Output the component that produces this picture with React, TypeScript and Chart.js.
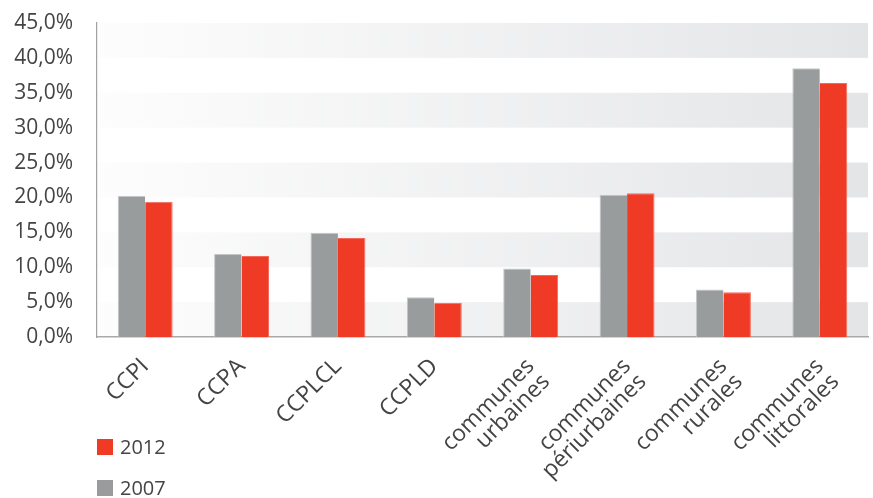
import React, { useEffect, useRef } from "react";
import { Chart, registerables } from "chart.js";

Chart.register(...registerables);

const categories: (string | string[])[] = [
  "CCPI",
  "CCPA",
  "CCPLCL",
  "CCPLD",
  ["communes", "urbaines"],
  ["communes", "périurbaines"],
  ["communes", "rurales"],
  ["communes", "littorales"],
];
const values2007 = [20.2, 11.9, 14.9, 5.7, 9.8, 20.4, 6.8, 38.5];
const values2012 = [19.4, 11.6, 14.2, 4.9, 8.9, 20.6, 6.4, 36.4];
const yTicks = [0, 5, 10, 15, 20, 25, 30, 35, 40, 45];

const GREY = "#999c9d";
const RED = "#ef3a26";
const FONT = "'Open Sans', sans-serif";

const bandsPlugin = {
  id: "bands",
  beforeDraw(chart: any) {
    const { ctx, chartArea, scales } = chart;
    const y = scales.y;
    const g = ctx.createLinearGradient(chartArea.left, 0, chartArea.right, 0);
    g.addColorStop(0, "#fdfdfd");
    g.addColorStop(1, "#e4e5e7");
    ctx.save();
    ctx.fillStyle = g;
    for (let i = 0; i < yTicks.length - 1; i += 2) {
      const top = y.getPixelForValue(yTicks[i + 1]);
      const bottom = y.getPixelForValue(yTicks[i]);
      ctx.fillRect(chartArea.left, top, chartArea.right - chartArea.left, bottom - top);
    }
    ctx.restore();
  },
};

export default function App() {
  const ref = useRef<HTMLCanvasElement>(null);
  useEffect(() => {
    if (!ref.current) return;
    const chart = new Chart(ref.current, {
      type: "bar",
      data: {
        labels: categories,
        datasets: [
          {
            label: "2007",
            data: values2007,
            backgroundColor: GREY,
            borderColor: "#c4c6c7",
            borderWidth: { top: 1, left: 1, right: 0, bottom: 0 },
            borderSkipped: "bottom",
            barPercentage: 1,
            categoryPercentage: 0.57,
          },
          {
            label: "2012",
            data: values2012,
            backgroundColor: RED,
            borderColor: "#f36a5c",
            borderWidth: { top: 1, left: 0, right: 1, bottom: 0 },
            borderSkipped: "bottom",
            barPercentage: 1,
            categoryPercentage: 0.57,
          },
        ],
      },
      options: {
        animation: false,
        responsive: true,
        maintainAspectRatio: false,
        layout: { padding: { top: 23, right: 5, left: 0, bottom: 0 } },
        plugins: { legend: { display: false }, tooltip: { enabled: false } },
        scales: {
          x: {
            grid: { display: false, drawTicks: false },
            border: { display: true, color: "#a8a9aa", width: 1.5 },
            ticks: {
              minRotation: 45,
              maxRotation: 45,
              autoSkip: false,
              padding: 18,
              color: "#444444",
              font: { family: FONT, size: 23, lineHeight: 0.95 },
            },
            afterFit: (s: any) => {
              s.height = 161;
              s.paddingLeft = 0;
              s.paddingRight = 0;
            },
          },
          y: {
            min: 0,
            max: 45,
            grid: { display: false, drawTicks: false },
            border: { display: true, color: "#a0a1a2", width: 1.2 },
            ticks: {
              stepSize: 5,
              padding: 24,
              color: "#444444",
              font: { family: FONT, size: 21 },
              callback: (v: any) => Number(v).toFixed(1).replace(".", ",") + "%",
            },
            afterFit: (s: any) => {
              s.width = 97;
              s.paddingTop = 0;
              s.paddingBottom = 0;
            },
          },
        },
      },
      plugins: [bandsPlugin],
    });
    return () => chart.destroy();
  }, []);

  const legendItem = (color: string, text: string, top: number) => (
    <div
      style={{
        position: "absolute",
        left: 97,
        top,
        display: "flex",
        alignItems: "center",
        fontFamily: FONT,
        fontSize: 20,
        color: "#444444",
        lineHeight: "16px",
      }}
    >
      <span style={{ display: "inline-block", width: 16, height: 16, background: color, marginRight: 7 }} />
      <span>{text}</span>
    </div>
  );

  return (
    <div style={{ position: "fixed", left: 0, top: 0, width: 873, height: 498, background: "#fff", overflow: "hidden" }}>
      <canvas ref={ref} />
      {legendItem(RED, "2012", 439)}
      {legendItem(GREY, "2007", 480)}
    </div>
  );
}
